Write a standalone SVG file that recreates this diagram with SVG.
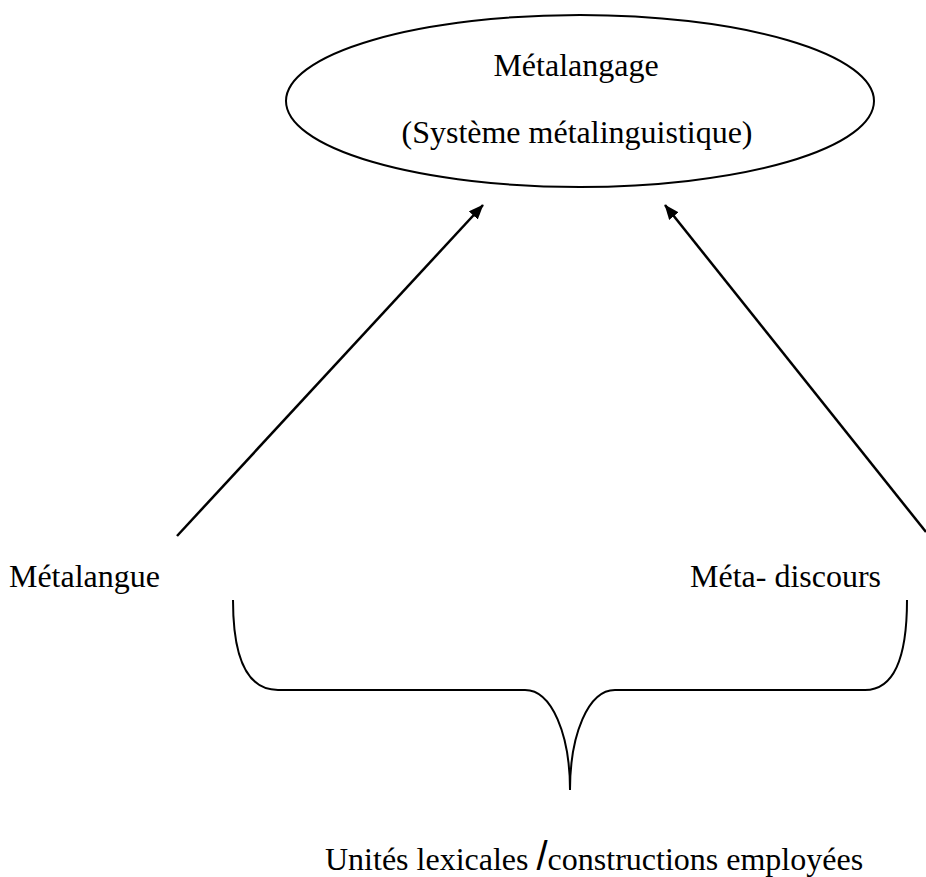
<svg xmlns="http://www.w3.org/2000/svg" width="926" height="877" viewBox="0 0 926 877">
<style>
text{font-family:"Liberation Serif","Times New Roman",serif;font-size:32px;fill:#000}
.ln{fill:none;stroke:#000;stroke-width:2.5}
.br{fill:none;stroke:#000;stroke-width:2}
</style>
<defs>
<marker id="ah" viewBox="0 0 10 8" refX="9.5" refY="4" markerWidth="6" markerHeight="4.8" orient="auto" markerUnits="strokeWidth">
<path d="M0,0 L10,4 L0,8 Z" fill="#000"/>
</marker>
</defs>
<rect width="926" height="877" fill="#fff"/>
<g id="metalangage">
<ellipse cx="580" cy="101" rx="294" ry="86" fill="none" stroke="#000" stroke-width="2"/>
<text x="576" y="76" text-anchor="middle">Métalangage</text>
<text x="577" y="143" text-anchor="middle">(Système métalinguistique)</text>
</g>
<g id="metalangue">
<text x="160" y="587" text-anchor="end">Métalangue</text>
</g>
<g id="metadiscours">
<text x="690" y="587">Méta- discours</text>
</g>
<g id="unites">
<text x="325" y="870">Unités lexicales <tspan font-family="'Liberation Sans',Arial,sans-serif" font-size="40">/</tspan>constructions employées</text>
</g>
<g id="connectors">
<line class="ln" x1="177" y1="536" x2="483" y2="205" marker-end="url(#ah)"/>
<line class="ln" x1="926" y1="532" x2="665" y2="205" marker-end="url(#ah)"/>
<path class="br" d="M233,600 C233,655 245,690 278,690 L525,690 C552,690 570,735 570,790 M570,790 C570,735 588,690 615,690 L865,690 C895,690 907,655 907,600"/>
</g>
</svg>
